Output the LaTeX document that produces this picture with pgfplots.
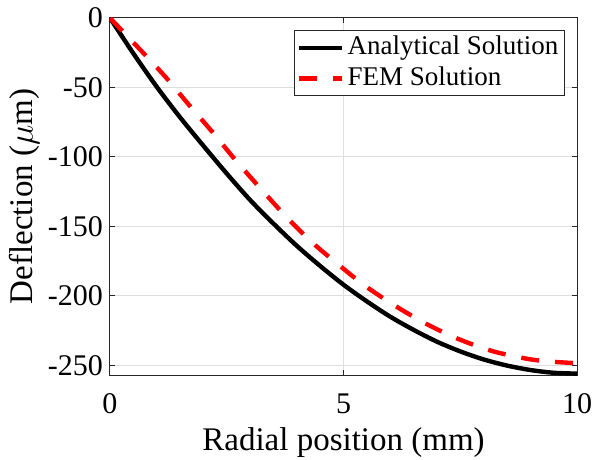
\documentclass[border=0pt]{standalone}
\usepackage{fontspec}
\setmainfont{Liberation Serif}
\usepackage{pgfplots}
\pgfplotsset{compat=1.18}
\begin{document}
\begin{tikzpicture}
\begin{axis}[
  scale only axis, width=233.5pt, height=178.5pt,
  xmin=0, xmax=10, ymin=-257, ymax=0,
  xtick={0,5,10}, ytick={-250,-200,-150,-100,-50,0},
  xticklabels={0,5,10},
  yticklabels={-250,-200,-150,-100,-50,0},
  tick label style={font=\fontsize{15}{18}\selectfont},
  xticklabel style={anchor=base, yshift=-19pt},
  label style={font=\fontsize{16.5}{19}\selectfont},
  xlabel={Radial position (mm)},
  ylabel={Deflection ($\mu$m)},
  xlabel style={at={(axis description cs:0.5,-0.2101)}, anchor=base},
  ylabel style={at={(axis description cs:-0.1657,0.5)}, anchor=base},
  grid=major, major grid style={draw=black!13, line width=0.5pt},
  axis line style={draw=black!85, line width=0.5pt},
  tick style={draw=black!85, line width=0.5pt},
  tick align=inside, tick pos=both, major tick length=2.5pt,
  legend style={at={(0.974,0.966)}, anchor=north east, draw=black!85, line width=0.5pt,
    fill=white, font=\fontsize{13.5}{15}\selectfont, inner xsep=1.5pt, inner ysep=2pt,
    row sep=2pt, nodes={inner xsep=1.5pt, inner ysep=0.5pt, text height=9.5pt, text depth=2.8pt}},
  legend cell align=left,
  legend image code/.code={\draw[#1] (0pt,0pt) -- (21.5pt,0pt);},
]
\addplot[black, line width=2.2pt, smooth] coordinates {
  (0,0) (0.5,-25.5) (1,-49.5) (1.5,-71.5) (2,-92) (2.5,-112) (3,-131) (3.5,-148)
  (4,-164) (4.5,-178.5) (5,-192) (5.5,-204) (6,-215) (6.5,-224.5) (7,-233)
  (7.5,-240) (8,-245.8) (8.5,-250.2) (9,-253.4) (9.5,-255.4) (10,-256)
};
\addlegendentry{Analytical Solution}
\addplot[red, line width=2.2pt, dash pattern=on 9pt off 8pt, smooth] coordinates {
  (0,0) (0.66,-23.3) (1.19,-42.5) (1.69,-62.5) (2.19,-82) (2.68,-102) (3.19,-121.5)
  (3.71,-140.8) (4.26,-159.5) (4.87,-177) (5.47,-193) (6.12,-207.5) (6.79,-220.5)
  (7.49,-231.5) (8.21,-240) (8.96,-245.5) (9.5,-247.5) (10,-248.5)
};
\addlegendentry{FEM Solution}
\end{axis}
\pgfresetboundingbox
\path (-55pt,-42pt) rectangle (241pt,187.5pt);
\end{tikzpicture}
\end{document}
